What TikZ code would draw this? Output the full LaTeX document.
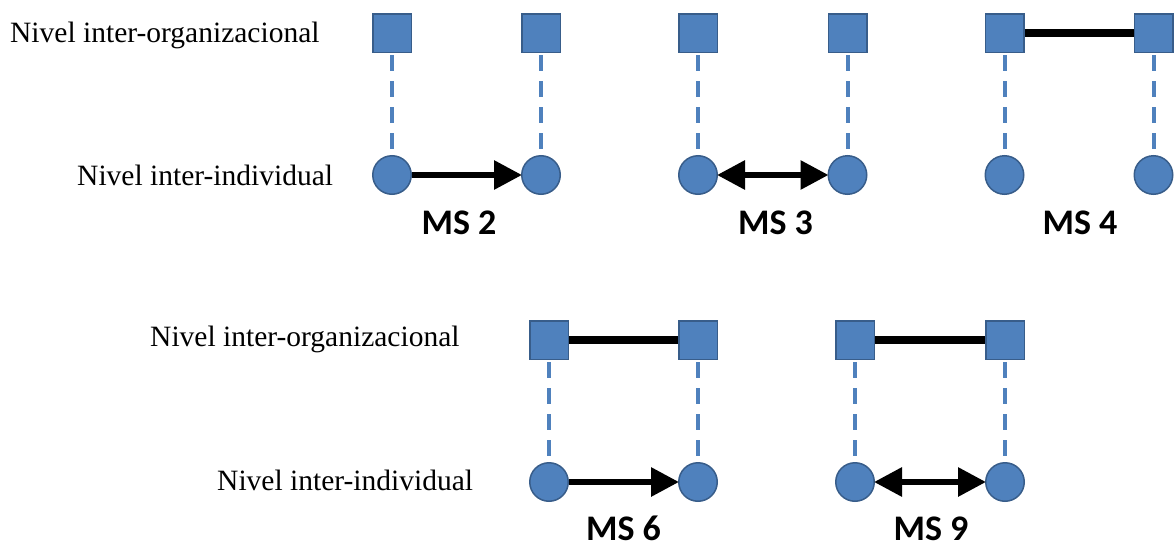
\documentclass[tikz,border=0pt]{standalone}
\usepackage{fontspec}
\setmainfont{Liberation Serif}
\newfontfamily\msfont{Carlito}
\usetikzlibrary{arrows.meta}
\definecolor{nodeblue}{HTML}{4F81BD}
\definecolor{nodeedge}{HTML}{385D8A}
\tikzset{
  org/.style={draw=nodeedge, fill=nodeblue, line width=1.5pt, minimum size=38.5pt, inner sep=0pt, rectangle},
  ind/.style={draw=nodeedge, fill=nodeblue, line width=1.5pt, minimum size=38.5pt, inner sep=0pt, circle},
  link/.style={draw=nodeblue, line width=4pt, dash pattern=on 16pt off 10pt, dash phase=-2pt},
  tie/.style={draw=black, line width=8pt},
  uni/.style={draw=black, line width=6pt, -{Triangle[length=28pt,width=28pt]}, shorten >=-1pt},
  bi/.style={draw=black, line width=6pt, {Triangle[length=28pt,width=28pt]}-{Triangle[length=28pt,width=28pt]}, shorten >=-1pt, shorten <=-1pt},
  lvl/.style={font=\fontsize{29.5}{32}\selectfont, inner sep=0pt, anchor=base west},
  ms/.style={font=\msfont\bfseries\fontsize{36}{40}\selectfont, inner sep=0pt, anchor=base}
}
\begin{document}
\begin{tikzpicture}[x=1pt,y=-1pt]
\useasboundingbox (0,0) rectangle (1176,546);
% labels
\node[lvl] (lo1) at (10,42) {Nivel inter-organizacional};
\node[lvl] (li1) at (77,185) {Nivel inter-individual};
\node[lvl] (lo2) at (150,346) {Nivel inter-organizacional};
\node[lvl] (li2) at (217,490) {Nivel inter-individual};
% MS 2
\node[org] (s2a) at (392,33) {};
\node[org] (s2b) at (541,33) {};
\node[ind] (c2a) at (392,175) {};
\node[ind] (c2b) at (541,175) {};
\draw[link] (s2a.south) -- (c2a.north);
\draw[link] (s2b.south) -- (c2b.north);
\draw[uni] (c2a.east) -- (c2b.west);
\node[ms] (m2) at (459,234) {MS 2};
% MS 3
\node[org] (s3a) at (698,33) {};
\node[org] (s3b) at (847.5,33) {};
\node[ind] (c3a) at (698,175) {};
\node[ind] (c3b) at (847.5,175) {};
\draw[link] (s3a.south) -- (c3a.north);
\draw[link] (s3b.south) -- (c3b.north);
\draw[bi] (c3a.east) -- (c3b.west);
\node[ms] (m3) at (775.5,234) {MS 3};
% MS 4
\node[org] (s4a) at (1004.5,33) {};
\node[org] (s4b) at (1153.5,33) {};
\node[ind] (c4a) at (1004.5,175) {};
\node[ind] (c4b) at (1153.5,175) {};
\draw[link] (s4a.south) -- (c4a.north);
\draw[link] (s4b.south) -- (c4b.north);
\draw[tie] (s4a.east) -- (s4b.west);
\node[ms] (m4) at (1080,234) {MS 4};
% MS 6
\node[org] (s6a) at (549,340) {};
\node[org] (s6b) at (698,340) {};
\node[ind] (c6a) at (549,482) {};
\node[ind] (c6b) at (698,482) {};
\draw[link] (s6a.south) -- (c6a.north);
\draw[link] (s6b.south) -- (c6b.north);
\draw[tie] (s6a.east) -- (s6b.west);
\draw[uni] (c6a.east) -- (c6b.west);
\node[ms] (m6) at (623.5,540) {MS 6};
% MS 9
\node[org] (s9a) at (855,340) {};
\node[org] (s9b) at (1005,340) {};
\node[ind] (c9a) at (855,482) {};
\node[ind] (c9b) at (1005,482) {};
\draw[link] (s9a.south) -- (c9a.north);
\draw[link] (s9b.south) -- (c9b.north);
\draw[tie] (s9a.east) -- (s9b.west);
\draw[bi] (c9a.east) -- (c9b.west);
\node[ms] (m9) at (931,540) {MS 9};
\end{tikzpicture}
\end{document}
